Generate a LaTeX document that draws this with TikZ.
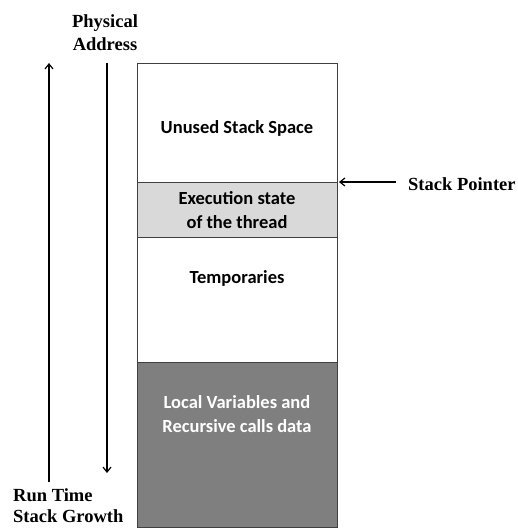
\documentclass[tikz,border=0pt]{standalone}
\usepackage{fontspec}
\setmainfont{Liberation Serif}
\newfontfamily\boxfont{Carlito}
\usetikzlibrary{arrows.meta}
\definecolor{lightfill}{HTML}{D9D9D9}
\definecolor{darkfill}{HTML}{7F7F7F}
\definecolor{edge}{HTML}{404040}
\begin{document}
\begin{tikzpicture}[x=1pt,y=-1pt,
  seg/.style={draw=edge,line width=1.2pt,minimum width=200pt,anchor=north west,inner sep=0pt},
  boxtext/.style={font=\boxfont\bfseries\fontsize{18.5}{24}\selectfont,align=center},
  lbl/.style={font=\bfseries\fontsize{18.5}{23}\selectfont,align=center},
  arr/.style={draw=black,line width=1.2pt,-{Straight Barb[length=5pt,width=8pt]}}]
\useasboundingbox (0,0) rectangle (518,528);
\node[seg,minimum height=119pt] (unused) at (137,63) {};
\node[seg,fill=lightfill,minimum height=55pt] (exec) at (137,182) {};
\node[seg,minimum height=125pt] (temp) at (137,237) {};
\node[seg,fill=darkfill,minimum height=165pt] (local) at (137,362) {};
\node[boxtext] (t1) at (237,128) {Unused Stack Space};
\node[boxtext] (t2) at (237,210) {Execution state\\of the thread};
\node[boxtext] (t3) at (237,278) {Temporaries};
\node[boxtext,text=white] (t4) at (237,414) {Local Variables and\\Recursive calls data};
\node[lbl] (phys) at (105,33) {Physical\\Address};
\node[lbl,align=left,anchor=south west,inner sep=0pt,font=\bfseries\fontsize{18.5}{21}\selectfont] (run) at (13,523) {Run Time\\Stack Growth};
\node[lbl,anchor=west,inner sep=0pt] (sp) at (408,184) {Stack Pointer};
\coordinate (upB) at (49,482);
\coordinate (upT) at (49,63);
\coordinate (dnT) at (107,63);
\coordinate (dnB) at (107,473);
\coordinate (spS) at (396,182);
\coordinate (spE) at (339,182);
\draw[arr] (upB) -- (upT);
\draw[arr] (dnT) -- (dnB);
\draw[arr] (spS) -- (spE);
\end{tikzpicture}
\end{document}
